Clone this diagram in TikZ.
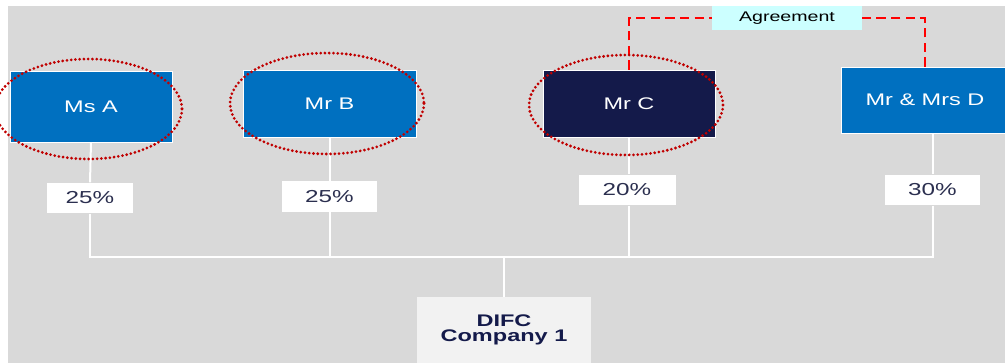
\documentclass[tikz,border=0pt]{standalone}
\usepackage{fontspec}
\setmainfont[FakeStretch=1.4]{Liberation Sans}
\usepackage{xcolor}
\definecolor{boxblue}{HTML}{0070C0}
\definecolor{boxnavy}{HTML}{141A4A}
\definecolor{ringred}{HTML}{C00000}
\definecolor{bggrey}{HTML}{D9D9D9}
\definecolor{agreecyan}{HTML}{CCFFFF}
\definecolor{pcttext}{HTML}{2B2F4F}
\definecolor{difcfill}{HTML}{F2F2F2}
\tikzset{
  person/.style={draw=white,line width=0.5pt,text=white,inner sep=0pt,
    font=\fontsize{12.6}{15}\selectfont},
  share/.style={fill=white,text=pcttext,inner sep=0pt,minimum height=23pt,
    font=\fontsize{13}{15}\selectfont},
  link/.style={draw=white,line width=1.5pt},
  ring/.style={draw=ringred,line width=2.3pt,dash pattern=on 0pt off 3.2pt,line cap=round},
  agreeline/.style={draw=red,line width=1.5pt,dash pattern=on 7pt off 4pt},
}
\begin{document}
\begin{tikzpicture}[x=0.75pt,y=-0.75pt]
  \useasboundingbox (0,0) rectangle (1005,363);
  \fill[bggrey] (8,6) rectangle (1005,363);
  % shareholders
  \node[person,fill=boxblue,minimum width=121.5pt,minimum height=53.25pt] (msA) at (91,106.5) {Ms A};
  \node[person,fill=boxblue,minimum width=129.75pt,minimum height=50.25pt] (mrB) at (329.5,103.5) {Mr B};
  \node[person,fill=boxnavy,minimum width=129pt,minimum height=50.25pt] (mrC) at (629,103.5) {Mr C};
  \node[person,fill=boxblue,minimum width=126pt,minimum height=49.5pt] (mrsD) at (925,100) {Mr \& Mrs D};
  % percentages
  \node[share,minimum width=64.5pt] (pA) at (90,198) {25\%};
  \node[share,minimum width=71.25pt] (pB) at (329.5,196.5) {25\%};
  \node[share,minimum width=72.75pt] (pC) at (627,190) {20\%};
  \node[share,minimum width=71.25pt] (pD) at (932.5,190) {30\%};
  % company
  \node[fill=difcfill,text=boxnavy,inner sep=0pt,minimum width=130.5pt,minimum height=49.5pt,
    align=center,font=\fontsize{12.6}{11.5}\selectfont\bfseries] (difc) at (504,330) {DIFC\\Company 1};
  % agreement
  \node[fill=agreecyan,inner sep=0pt,minimum width=112.5pt,minimum height=18pt,
    font=\fontsize{10.5}{12}\selectfont] (agree) at (787,18) {Agreement};
  \coordinate (bus) at (504,257);
  % ownership lines
  \draw[link] (msA.south) -- (pA.north);
  \draw[link] (mrB.south) -- (pB.north);
  \draw[link] (mrC.south) -- (mrC.south |- pC.north);
  \draw[link] (mrsD.south -| pD.north) -- (pD.north);
  \draw[link] (pA.south) |- (bus);
  \draw[link] (pD.south) |- (bus);
  \draw[link] (pB.south) -- (pB.south |- bus);
  \draw[link] (mrC.south |- pC.south) -- (mrC.south |- bus);
  \draw[link] (bus) -- (difc.north);
  % agreement lines
  \draw[agreeline] (mrC.north) |- (agree.west);
  \draw[agreeline] (mrsD.north) |- (agree.east);
  % highlight rings
  \draw[ring] (88.5,109) ellipse [x radius=93.5,y radius=50];
  \draw[ring] (327,103.5) ellipse [x radius=97,y radius=50.5];
  \draw[ring] (626,105) ellipse [x radius=97,y radius=50];
\end{tikzpicture}
\end{document}
